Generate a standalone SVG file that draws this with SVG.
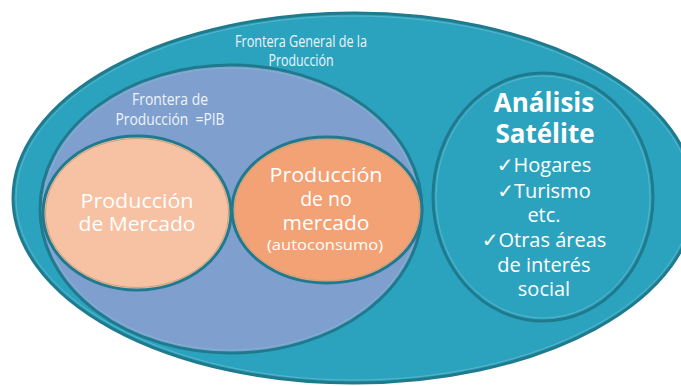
<svg xmlns="http://www.w3.org/2000/svg" width="681" height="386" viewBox="0 0 681 386">
<style>
.ring{stroke:#1F7A8E;stroke-width:3}
.inner{fill:none;stroke:#7CC3D3;stroke-width:0.8;opacity:0.7}
.tan{fill:none;stroke:#C9A27E;stroke-width:1}
.t{font-family:"Open Sans","Noto Sans","DejaVu Sans",sans-serif;fill:#FFFFFF;text-anchor:middle}
.lbl{font-size:16.5px;fill:#EEF4FA}
.big{font-size:19.5px}
.sm{font-size:14.5px}
.sat{font-size:20px}
.h{font-size:26px;font-weight:bold}
</style>
<rect width="681" height="386" fill="#FFFFFF"/>
<g id="frontera-general">
<ellipse cx="354" cy="198" rx="341" ry="185" fill="#2CA3BE" class="ring"/>
<ellipse cx="354" cy="198" rx="338" ry="182" class="inner"/>
<text class="t lbl" x="301" y="47" textLength="132" lengthAdjust="spacingAndGlyphs">Frontera General de la</text>
<text class="t lbl" x="301" y="66" textLength="65" lengthAdjust="spacingAndGlyphs">Producción</text>
</g>
<g id="frontera-pib">
<ellipse cx="231" cy="209" rx="191" ry="144" fill="#7F9FCF" class="ring"/>
<ellipse cx="231" cy="209" rx="188" ry="141" class="inner"/>
<text class="t lbl" x="170" y="105" textLength="76" lengthAdjust="spacingAndGlyphs">Frontera de</text>
<text class="t lbl" x="170" y="125" textLength="109" lengthAdjust="spacingAndGlyphs" xml:space="preserve">Producción  =PIB</text>
</g>
<g id="analisis-satelite">
<ellipse cx="543" cy="197" rx="110" ry="124" fill="#2CA3BE" class="ring"/>
<ellipse cx="543" cy="197" rx="107" ry="121" class="inner"/>
<text class="t h" x="544" y="112">Análisis</text>
<text class="t h" x="545" y="143">Satélite</text>
<text class="t sat" x="544" y="172">✓Hogares</text>
<text class="t sat" x="544" y="198">✓Turismo</text>
<text class="t sat" x="544" y="222">etc.</text>
<text class="t sat" x="544" y="247">✓Otras áreas</text>
<text class="t sat" x="544" y="272">de interés</text>
<text class="t sat" x="544" y="296">social</text>
</g>
<g id="produccion-mercado">
<ellipse cx="137" cy="213" rx="94" ry="77" fill="#F6C2A3" class="ring"/>
<ellipse cx="137" cy="213" rx="91.5" ry="74.5" class="tan"/>
<text class="t big" x="137" y="208" textLength="113" lengthAdjust="spacingAndGlyphs">Producción</text>
<text class="t big" x="137" y="231" textLength="117" lengthAdjust="spacingAndGlyphs">de Mercado</text>
</g>
<g id="produccion-no-mercado">
<ellipse cx="327" cy="210" rx="95" ry="73" fill="#F2A275" class="ring"/>
<ellipse cx="327" cy="210" rx="92.5" ry="70.5" class="tan"/>
<text class="t big" x="326" y="182" textLength="113" lengthAdjust="spacingAndGlyphs">Producción</text>
<text class="t big" x="326" y="206">de no</text>
<text class="t big" x="326" y="230" textLength="87" lengthAdjust="spacingAndGlyphs">mercado</text>
<text class="t sm" x="325" y="250" textLength="116" lengthAdjust="spacingAndGlyphs">(autoconsumo)</text>
</g>
<g id="connectors"></g>
</svg>
